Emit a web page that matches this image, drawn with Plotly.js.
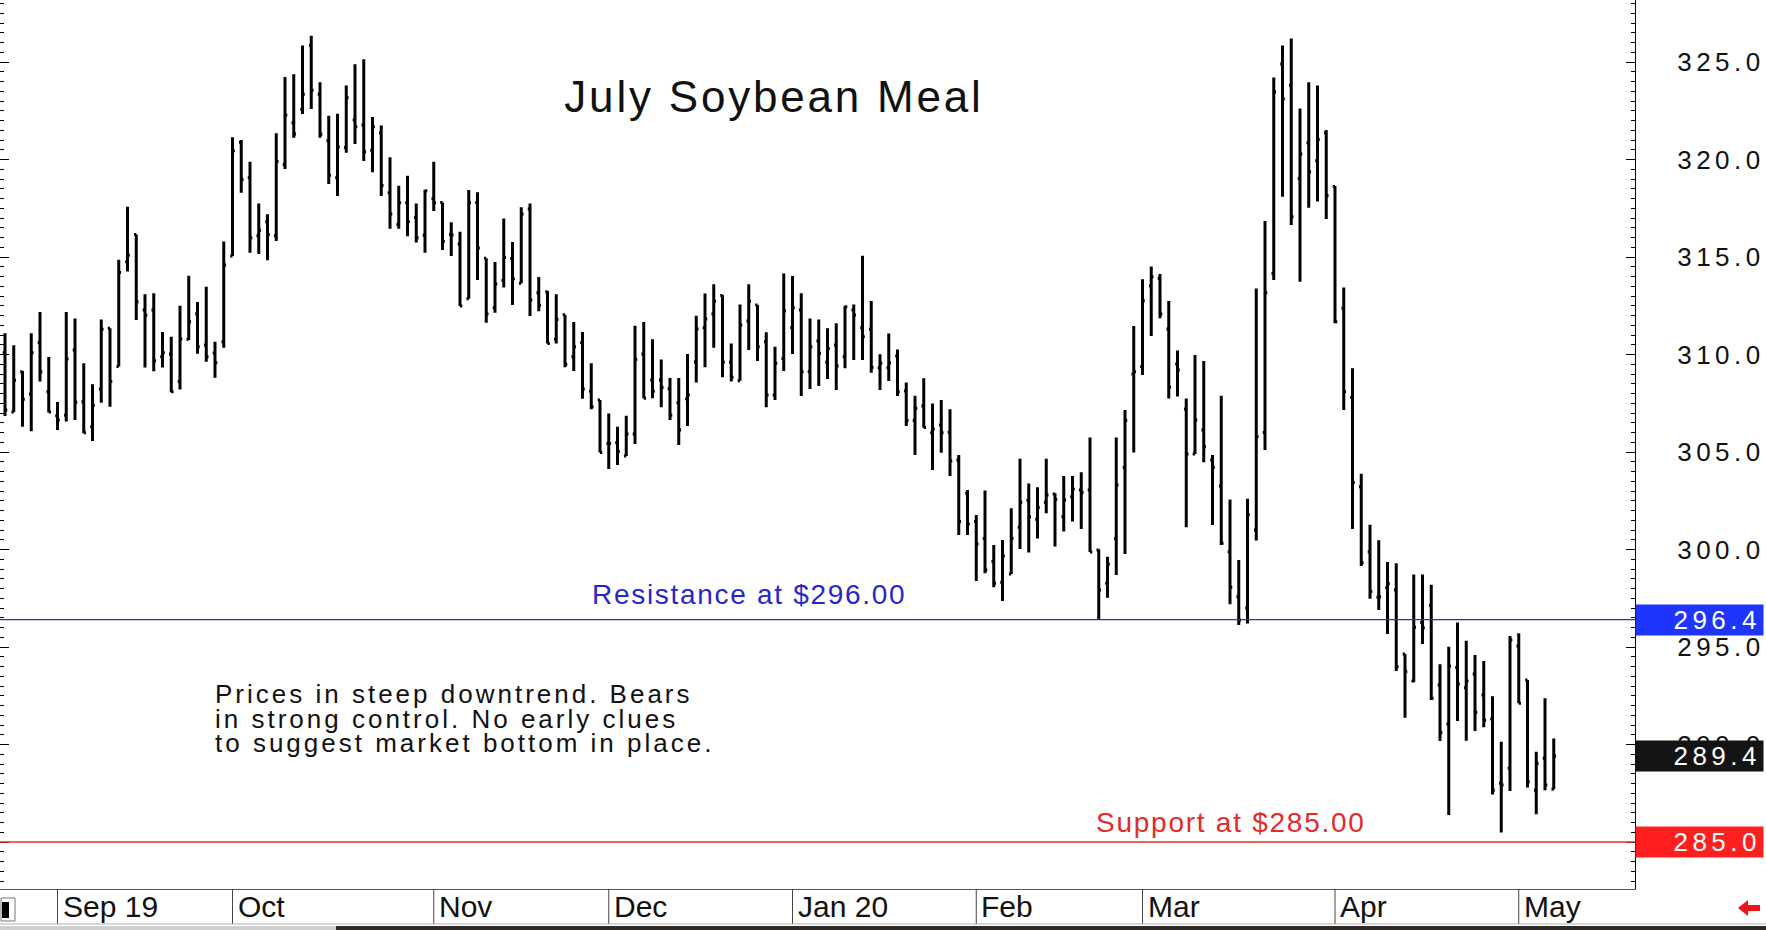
<!DOCTYPE html>
<html>
<head>
<meta charset="utf-8">
<script src="https://cdn.plot.ly/plotly-3.0.1.min.js"></script>
<style>
html,body{margin:0;padding:0;background:#fff;}
#chart{width:1766px;height:930px;}
.ytick text{letter-spacing:4.5px;}
</style>
</head>
<body>
<div id="chart"></div>
<script>
// ---- data ----
const firstDay = '2019-08-23';
const lastDay = '2020-05-07';
const holidays = ['2019-09-02','2019-11-28','2019-12-25','2020-01-01','2020-01-20','2020-02-17','2020-04-10'];

const openP = [310.09,307.05,309.12,307.97,310.61,308.09,306.86,306.88,310.23,307.58,
306.30,308.23,311.34,309.38,314.76,316.16,312.28,312.28,309.89,310.03,
308.61,310.78,312.09,310.49,310.08,310.66,315.05,320.88,319.07,316.09,
316.81,316.09,319.75,321.89,322.57,325.84,323.34,320.96,319.07,320.62,
322.03,321.77,320.47,321.37,318.30,316.67,317.78,317.02,316.11,317.99,
317.80,316.16,315.67,312.86,317.79,314.93,312.40,313.79,314.92,313.65,
317.46,313.17,313.22,310.78,312.04,309.89,310.61,308.11,307.67,305.44,
305.48,304.79,305.92,310.02,308.69,308.69,308.25,307.53,307.73,309.62,
311.37,312.08,313.02,309.60,308.66,311.72,312.54,310.66,307.92,309.80,
311.39,312.28,309.12,310.69,309.60,310.49,309.89,312.28,311.37,311.29,
309.32,309.32,309.92,308.13,306.61,307.36,305.99,306.38,306.01,304.59,
302.88,301.43,300.56,299.38,298.32,298.74,301.14,302.51,301.55,302.42,
302.85,301.68,302.71,303.05,303.05,299.98,298.27,300.56,304.20,309.00,
309.38,313.51,313.91,311.31,309.51,307.21,304.90,306.13,304.59,303.26,
299.89,297.58,297.00,301.00,306.00,314.16,324.90,323.79,319.03,320.86,
319.94,321.37,318.61,312.37,307.79,303.22,299.89,297.55,298.04,297.92,
294.64,293.26,296.26,297.13,293.05,291.05,293.95,292.91,293.61,292.54,
291.31,288.01,288.78,295.05,293.31,287.66,289.29,287.70];

const highP = [311.09,310.47,309.15,311.09,312.18,309.87,307.56,312.18,311.85,309.55,
308.47,311.80,311.34,314.86,317.58,316.16,313.09,313.14,311.16,310.91,
312.50,314.04,312.69,313.48,310.66,315.79,321.14,321.00,319.89,317.75,
317.19,321.34,324.23,324.37,325.84,326.35,323.96,322.25,322.35,323.79,
324.88,325.14,322.18,321.74,320.11,318.66,319.17,317.75,318.45,319.89,
317.80,316.78,316.30,318.44,318.32,314.93,314.74,316.98,315.77,317.55,
317.75,313.97,313.26,313.09,312.04,311.67,311.15,309.55,307.67,306.98,
306.30,306.86,311.48,311.67,310.78,309.75,308.79,308.79,310.02,311.99,
313.13,313.60,313.05,310.57,312.57,313.60,312.54,311.14,310.40,314.16,
314.02,313.14,311.85,311.80,311.34,311.60,312.50,312.57,315.07,312.74,
310.01,311.08,310.26,308.57,307.89,308.78,307.49,307.67,307.19,304.85,
303.05,301.77,303.02,300.23,300.49,302.11,304.66,303.39,303.19,304.66,
302.88,303.77,303.77,303.96,305.75,300.01,299.63,305.75,307.15,311.46,
313.86,314.51,314.13,312.74,310.20,307.75,309.97,309.67,304.85,307.89,
302.57,299.46,302.60,313.39,316.85,324.21,325.84,326.21,322.62,323.96,
323.79,321.51,318.64,313.44,309.29,303.89,301.27,300.48,299.36,299.29,
294.64,298.72,298.72,298.19,294.11,295.01,296.26,295.32,294.59,294.28,
292.48,290.14,295.56,295.70,293.31,289.63,292.37,290.31];

const lowP = [306.85,307.05,306.30,306.06,308.61,307.02,306.13,306.56,306.64,305.96,
305.56,307.53,307.32,309.38,314.26,311.77,309.33,309.14,309.33,308.06,
308.21,310.74,310.04,309.63,308.81,310.35,315.05,318.30,315.22,315.15,
314.83,315.82,319.51,321.12,322.33,322.59,321.12,318.74,318.13,320.35,
320.80,319.92,319.34,318.13,316.45,316.45,316.07,315.75,315.22,317.36,
315.36,315.05,312.49,312.86,313.82,311.63,312.14,313.44,312.54,313.65,
311.97,312.22,310.57,310.57,309.34,309.15,307.73,307.19,304.98,304.13,
304.33,304.79,305.41,307.76,307.76,307.29,306.64,305.36,306.33,308.57,
309.34,310.35,308.83,308.62,308.66,310.23,309.67,307.29,307.67,309.15,
310.03,307.87,308.23,308.38,308.74,308.18,309.29,309.72,309.72,309.07,
308.18,308.64,307.87,306.33,304.84,306.25,304.08,304.96,303.77,300.74,
300.74,298.39,298.78,298.06,297.36,298.74,300.03,299.84,300.56,301.86,
300.15,300.92,301.43,301.05,299.87,296.39,297.53,298.69,299.77,304.98,
308.95,310.95,311.86,307.75,307.84,301.14,304.90,304.47,301.26,300.23,
297.19,296.13,296.20,300.46,305.10,313.82,318.09,316.64,313.73,317.53,
317.84,316.95,311.60,307.15,301.05,299.15,297.48,296.90,295.67,293.77,
291.37,293.19,295.15,292.28,290.18,286.38,291.20,290.19,290.69,290.88,
287.44,285.49,287.61,292.11,287.80,286.42,287.66,287.70];

const closeP = [307.15,308.68,307.70,310.09,309.12,307.05,306.64,309.77,307.55,305.99,
307.39,311.29,308.61,314.20,315.09,312.71,312.01,309.68,310.09,308.09,
310.79,311.68,310.40,309.89,309.58,314.59,320.45,318.98,315.99,316.37,
316.16,319.90,322.28,321.31,323.34,323.55,321.29,319.19,320.64,323.17,
321.68,320.40,321.68,318.67,317.20,317.78,316.81,315.99,318.40,317.78,
315.79,316.13,312.49,317.79,315.46,312.08,313.62,314.97,313.89,317.21,
312.79,312.52,310.57,311.80,309.49,310.40,308.23,307.32,304.98,305.44,
305.02,305.92,309.75,307.76,308.11,308.31,306.88,306.13,307.92,311.31,
311.82,312.73,309.60,308.83,311.51,312.73,310.40,307.92,309.55,312.23,
312.40,309.12,310.40,310.06,310.31,309.41,312.45,312.02,310.91,309.34,
309.55,309.58,308.09,306.61,307.24,306.26,306.18,305.99,304.54,301.43,
301.31,300.28,298.95,298.27,299.67,300.56,302.42,301.68,302.16,302.80,
302.57,302.54,303.10,302.92,299.87,297.92,299.24,303.31,306.61,309.12,
312.76,313.99,312.08,308.32,309.21,304.90,306.64,305.27,304.20,300.32,
298.06,296.39,301.80,305.80,313.17,323.48,323.10,317.07,320.28,319.37,
321.03,318.15,311.68,308.09,303.43,299.32,297.84,297.58,298.26,293.99,
293.73,296.01,295.99,292.37,290.60,294.02,293.10,293.26,291.65,291.25,
287.66,287.92,295.36,292.11,288.09,289.03,287.92,289.40];

const monthLabels = ['Sep 19','Oct','Nov','Dec','Jan 20','Feb','Mar','Apr','May'];
const priceTicks = [285,290,295,300,305,310,315,320,325];
const hiddenTickLabels = [285]; // covered by the support box in the reference
const resistanceLevel = 296.4;
const supportLevel = 285.0;
const resistanceText = 'Resistance at $296.00';
const supportText = 'Support at $285.00';
const titleText = 'July Soybean Meal';
const noteLines = ['Prices in steep downtrend. Bears','in strong control. No early clues','to suggest market bottom in place.'];

// ---- trading calendar ----
function tradingDays(a, b, hol) {
  const out = [];
  const d = new Date(a + 'T00:00:00Z');
  const end = new Date(b + 'T00:00:00Z');
  while (d <= end) {
    const wd = d.getUTCDay();
    const s = d.toISOString().slice(0, 10);
    if (wd !== 0 && wd !== 6 && hol.indexOf(s) < 0) out.push(s);
    d.setUTCDate(d.getUTCDate() + 1);
  }
  return out;
}
const dates = tradingDays(firstDay, lastDay, holidays);
const idx = dates.map((_, i) => i);
const monthTickIdx = [];
for (let i = 1; i < dates.length; i++) {
  if (dates[i].slice(5, 7) !== dates[i - 1].slice(5, 7)) monthTickIdx.push(i);
}

// ---- geometry helpers (pixel -> paper) ----
const W = 1766, H = 930, ML = 0, MR = 131, MT = 0, MB = 41;
const PW = W - ML - MR, PH = H - MT - MB;
const px = x => (x - ML) / PW;
const py = y => (MT + PH - y) / PH;

const barColor = '#000000';
const trace = {
  type: 'ohlc', x: idx, open: openP, high: highP, low: lowP, close: closeP,
  text: dates, hoverinfo: 'x+text',
  increasing: {line: {color: barColor, width: 3}},
  decreasing: {line: {color: barColor, width: 3}},
  tickwidth: 0.26
};

const shapes = [];
const annotations = [];

// resistance / support lines
shapes.push({type:'line', xref:'paper', x0:0, x1:1, yref:'y', y0:resistanceLevel, y1:resistanceLevel, line:{color:'#2b2bd6', width:1.3}});
shapes.push({type:'line', xref:'paper', x0:0, x1:1, yref:'y', y0:supportLevel, y1:supportLevel, line:{color:'#e53030', width:1.3}});

// month separators in the date band
monthTickIdx.forEach(i => {
  shapes.push({type:'line', xref:'x', x0:i, x1:i, yref:'paper', y0:py(924), y1:0, line:{color:'#444', width:1}});
});
// bottom band line & screen strip
shapes.push({type:'line', xref:'paper', x0:0, x1:px(1766), yref:'paper', y0:py(924), y1:py(924), line:{color:'#b0b0b0', width:1}});
shapes.push({type:'rect', xref:'paper', x0:0, x1:px(336), yref:'paper', y0:py(926), y1:py(931), fillcolor:'#cfcfcf', line:{width:0}});
shapes.push({type:'rect', xref:'paper', x0:px(336), x1:px(1767), yref:'paper', y0:py(926), y1:py(931), fillcolor:'#2e2a28', line:{width:0}});
// small icon bottom-left
shapes.push({type:'rect', xref:'paper', x0:px(1), x1:px(15), yref:'paper', y0:py(898), y1:py(921), fillcolor:'#fff', line:{color:'#777', width:1}});
shapes.push({type:'rect', xref:'paper', x0:px(2), x1:px(9), yref:'paper', y0:py(902), y1:py(918), fillcolor:'#000', line:{width:0}});
// red arrow bottom-right
const arrowPts = [[1738,908],[1748,900],[1748,905],[1760,905],[1760,911],[1748,911],[1748,916]];
shapes.push({type:'path', xref:'paper', yref:'paper', fillcolor:'#e8161b', line:{width:0},
  path: 'M' + arrowPts.map(p => px(p[0]).toFixed(5) + ',' + py(p[1]).toFixed(5)).join(' L') + ' Z'});

// month labels
monthTickIdx.forEach((i, k) => {
  annotations.push({xref:'x', x:i, xanchor:'left', xshift:3, yref:'paper', y:py(906.5), yanchor:'middle',
    text: monthLabels[k], showarrow:false, font:{family:'Liberation Sans, Arial, sans-serif', size:30, color:'#111'}});
});

// text annotations
const txtFont = (c, s) => ({family:'Liberation Sans, Arial, sans-serif', size:s, color:c});
annotations.push({xref:'paper', x:px(749), xanchor:'center', yref:'y', y:resistanceLevel, yanchor:'middle', yshift:25,
  text:'<span style="letter-spacing:1.7px">' + resistanceText + '</span>', showarrow:false, font:txtFont('#2727c9', 28)});
annotations.push({xref:'paper', x:px(1231), xanchor:'center', yref:'y', y:supportLevel, yanchor:'middle', yshift:20,
  text:'<span style="letter-spacing:1.75px">' + supportText + '</span>', showarrow:false, font:txtFont('#e52a2a', 28)});
const noteY = [694, 718.6, 743.3];
noteLines.forEach((t, k) => {
  annotations.push({xref:'paper', x:px(213), xanchor:'left', yref:'paper', y:py(noteY[k]), yanchor:'middle',
    text:'<span style="letter-spacing:3px">' + t + '</span>', showarrow:false, font:txtFont('#111', 26)});
});

// value boxes on the price axis
const lastClose = closeP[closeP.length - 1];
const boxes = [[resistanceLevel, '#1f35ff'], [lastClose, '#141414'], [supportLevel, '#ff1f1f']];
boxes.forEach(b => {
  annotations.push({xref:'paper', x:1, xanchor:'left', yref:'y', y:b[0], yanchor:'middle',
    text:'<span style="letter-spacing:4.5px">' + b[0].toFixed(1) + '</span>', showarrow:false,
    bgcolor:b[1], width:123, height:26, borderpad:2, align:'right',
    font:{family:'Liberation Sans, Arial, sans-serif', size:26, color:'#fff'}});
});

const layout = {
  width: W, height: H,
  margin: {l: ML, r: MR, t: MT, b: MB, pad: 0},
  paper_bgcolor: '#fff', plot_bgcolor: '#fff',
  showlegend: false,
  title: {text: '<span style="letter-spacing:2.8px">' + titleText + '</span>', xref:'paper', x: px(774), xanchor:'center',
    yref:'paper', y: py(97), yanchor:'middle',
    font:{family:'Liberation Sans, Arial, sans-serif', size:44, color:'#111'}},
  xaxis: {range: [-5/8.75, (PW-5)/8.75], showgrid:false, zeroline:false, showticklabels:false, ticks:'',
    showline:true, linecolor:'#555', linewidth:1, rangeslider:{visible:false}, fixedrange:true},
  yaxis: {side:'right', range:[325 - (PH-62)/19.5, 325 + 62/19.5],
    tickmode:'array', tickvals: priceTicks,
    ticktext: priceTicks.map(v => hiddenTickLabels.indexOf(v) >= 0 ? '' : v.toFixed(1)),
    showgrid:false, zeroline:false, showline:true, linecolor:'#000', linewidth:1, mirror:'ticks',
    ticks:'inside', ticklen:9, tickcolor:'#000', ticklabelstandoff:36,
    minor:{dtick:0.5, tick0:0, ticks:'inside', ticklen:4, tickcolor:'#000', showgrid:false},
    tickfont:{family:'Liberation Sans, Arial, sans-serif', size:26, color:'#111'}, fixedrange:true},
  shapes: shapes,
  annotations: annotations
};

Plotly.newPlot('chart', [trace], layout, {staticPlot:true, displayModeBar:false});
</script>
</body>
</html>
